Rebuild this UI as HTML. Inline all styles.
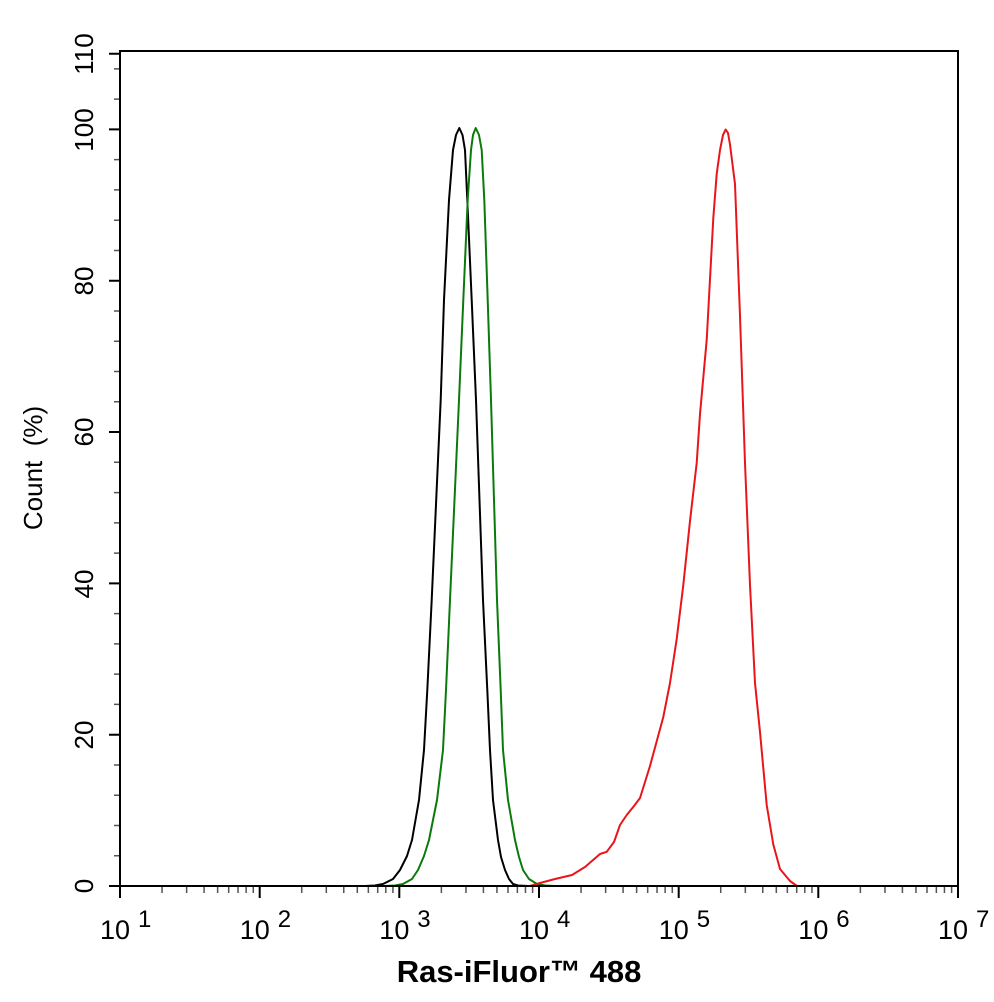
<!DOCTYPE html>
<html><head><meta charset="utf-8"><style>
body{margin:0;background:#fff}
svg{display:block}
text{font-family:"Liberation Sans",Arial,sans-serif;fill:#000}
</style></head><body>
<svg width="994" height="1002" viewBox="0 0 994 1002" xmlns="http://www.w3.org/2000/svg">
<rect x="0" y="0" width="994" height="1002" fill="#fff"/>
<defs>
<path id="mt" d="M162.05,886 v7 M186.64,886 v7 M204.09,886 v7 M217.63,886 v7 M228.68,886 v7 M238.03,886 v7 M246.13,886 v7 M253.28,886 v7" stroke="#555" stroke-width="1.5" fill="none"/>
</defs>
<use href="#mt"/>
<use href="#mt" transform="translate(139.67,0)"/>
<use href="#mt" transform="translate(279.33,0)"/>
<use href="#mt" transform="translate(419,0)"/>
<use href="#mt" transform="translate(558.67,0)"/>
<use href="#mt" transform="translate(698.33,0)"/>
<path d="M120,886 v12 M259.7,886 v12 M399.3,886 v12 M539,886 v12 M678.7,886 v12 M818.3,886 v12 M958,886 v12" stroke="#000" stroke-width="2" fill="none"/>
<path d="M114,886 h6 m-6,-30.264 h6 m-6,-30.264 h6 m-6,-30.264 h6 m-6,-30.264 h6 m-6,-30.264 h6 m-6,-30.264 h6 m-6,-30.264 h6 m-6,-30.264 h6 m-6,-30.264 h6 m-6,-30.264 h6 m-6,-30.264 h6 m-6,-30.264 h6 m-6,-30.264 h6 m-6,-30.264 h6 m-6,-30.264 h6 m-6,-30.264 h6 m-6,-30.264 h6 m-6,-30.264 h6 m-6,-30.264 h6 m-6,-30.264 h6 m-6,-30.264 h6 m-6,-30.264 h6 m-6,-30.264 h6 m-6,-30.264 h6 m-6,-30.264 h6 m-6,-30.264 h6 m-6,-30.264 h6" stroke="#555" stroke-width="1.5" fill="none"/>
<path d="M109,886 h11 M109,734.7 h11 M109,583.4 h11 M109,432 h11 M109,280.7 h11 M109,129.4 h11 M109,53.7 h11" stroke="#000" stroke-width="2" fill="none"/>
<g fill="none" stroke-width="2" stroke-linejoin="round">
<path stroke="#000" d="M365,886 L375,885.5 L383,884 L393,879 L400,870 L407,856 L412,840 L419,800 L424,750 L427.3,690 L431.7,600 L440.7,400 L444,300 L449,200 L453,150 L456,135 L459.3,128 L462.5,135 L465,150 L467.3,200 L471.7,300 L476,400 L483,600 L487.3,690 L490,750 L493,800 L498,840 L501,857 L505,870 L509,879 L513,884 L518,885.5 L528,886"/>
<path stroke="#0a7a0a" d="M385,886 L395,885.5 L403,884 L412,879 L418,870 L424,856 L429,840 L437,800 L443,750 L446,690 L450,600 L459,400 L463.3,300 L467.7,200 L471,150 L473,135 L475.7,128 L479,135 L481.7,150 L484.3,200 L487.7,300 L491,400 L497,600 L500.7,690 L503,750 L508,800 L515,840 L519,857 L523,870 L529,879 L537,884 L545,885.5 L555,886"/>
<path stroke="#e8161a" d="M530,886 L540,883 L555,879 L572,875 L585,867 L600,854 L606.7,851.8 L614,842 L620,825 L626.7,815 L634,806 L640,798 L650,766 L663.3,717 L670,683 L676.7,639 L683.3,585 L690,521 L696.7,463 L700,414 L706.7,340 L713.3,218 L716.7,174 L720,150 L723,135 L725.7,129.5 L728,133 L730,144.5 L735,184 L740,316 L745,463 L750,585 L755,683 L760,732 L766.7,805 L773.3,844.5 L780,869 L790,881 L797,886"/>
</g>
<rect x="120" y="51" width="838" height="835" fill="none" stroke="#000" stroke-width="2"/>
<g font-size="26" text-anchor="middle">
<text transform="translate(93,886) rotate(-90)">0</text>
<text transform="translate(93,735) rotate(-90)">20</text>
<text transform="translate(93,584) rotate(-90)">40</text>
<text transform="translate(93,432) rotate(-90)">60</text>
<text transform="translate(93,281) rotate(-90)">80</text>
<text transform="translate(93,130) rotate(-90)">100</text>
<text transform="translate(93,54) rotate(-90)">110</text>
<text transform="translate(42,468) rotate(-90)">Count&#160;&#160;(%)</text>
</g>
<g font-size="27">
<text x="100" y="939">10</text><text x="138" y="927" font-size="24">1</text>
<text x="239.7" y="939">10</text><text x="277.7" y="927" font-size="24">2</text>
<text x="379.3" y="939">10</text><text x="417.3" y="927" font-size="24">3</text>
<text x="519" y="939">10</text><text x="557" y="927" font-size="24">4</text>
<text x="658.7" y="939">10</text><text x="696.7" y="927" font-size="24">5</text>
<text x="798.3" y="939">10</text><text x="836.3" y="927" font-size="24">6</text>
<text x="938" y="939">10</text><text x="976" y="927" font-size="24">7</text>
</g>
<text x="519" y="982" font-size="31" font-weight="bold" text-anchor="middle">Ras-iFluor™ 488</text>
</svg>
</body></html>
